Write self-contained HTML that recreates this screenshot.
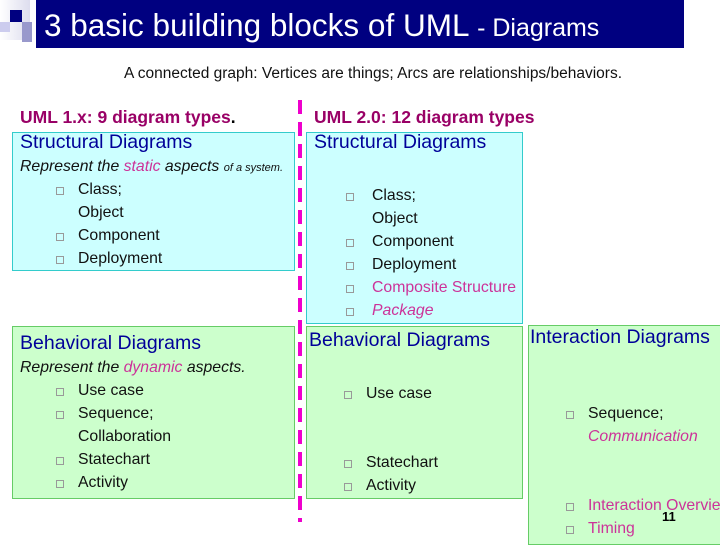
<!DOCTYPE html>
<html><head><meta charset="utf-8"><style>
body{margin:0;width:720px;height:540px;position:relative;overflow:hidden;background:#fff;font-family:"Liberation Sans",sans-serif;}
.a{position:absolute;white-space:nowrap;line-height:20px;}
.box{position:absolute;box-sizing:border-box;}
.h{font-size:19.5px;color:#000099;}
.t{font-size:15.8px;color:#111;}
.m{color:#cc3399;}
.b{position:absolute;width:8px;height:8px;border:1px solid #999;box-sizing:border-box;}
</style></head><body>
<div class="box" style="left:36px;top:0;width:648px;height:48px;background:#000080"></div>
<div class="box" style="left:0;top:0;width:30px;height:40px;background:linear-gradient(90deg,#fff,#dde)"></div>
<div class="box" style="left:10px;top:10px;width:12px;height:12px;background:#000080"></div>
<div class="box" style="left:22px;top:22px;width:10px;height:20px;background:#9999cc"></div>
<div class="box" style="left:0;top:22px;width:10px;height:10px;background:#ccccee"></div>
<div class="a" style="left:44px;top:7px;line-height:36px;font-size:31.5px;color:#fff">3 basic building blocks of UML <span style="font-size:25px">- Diagrams</span></div>
<div class="a" style="left:124px;top:64px;font-size:15.5px;color:#111">A connected graph: Vertices are things; Arcs are relationships/behaviors.</div>

<div class="a" style="left:20px;top:107px;font-size:17.5px;font-weight:bold;color:#990066">UML 1.x: 9 diagram types<span style="color:#000">.</span></div>
<div class="a" style="left:314px;top:107px;font-size:17.5px;font-weight:bold;color:#990066">UML 2.0: 12 diagram types</div>

<div class="box" style="left:12px;top:132px;width:283px;height:139px;background:#ccffff;border:1px solid #33cccc"></div>
<div class="a h" style="left:20px;top:132px">Structural Diagrams</div>
<div class="a t" style="left:20px;top:157px;font-style:italic">Represent the <span class="m">static</span> aspects <span style="font-size:11px">of a system.</span></div>
<div class="b" style="left:56px;top:187px"></div><div class="a t" style="left:78px;top:180px">Class;</div>
<div class="a t" style="left:78px;top:203px">Object</div>
<div class="b" style="left:56px;top:233px"></div><div class="a t" style="left:78px;top:226px">Component</div>
<div class="b" style="left:56px;top:256px"></div><div class="a t" style="left:78px;top:249px">Deployment</div>

<div class="box" style="left:12px;top:326px;width:283px;height:173px;background:#ccffcc;border:1px solid #66cc66"></div>
<div class="a h" style="left:20px;top:333px">Behavioral Diagrams</div>
<div class="a t" style="left:20px;top:358px;font-style:italic">Represent the <span class="m">dynamic</span> aspects.</div>
<div class="b" style="left:56px;top:388px"></div><div class="a t" style="left:78px;top:381px">Use case</div>
<div class="b" style="left:56px;top:411px"></div><div class="a t" style="left:78px;top:404px">Sequence;</div>
<div class="a t" style="left:78px;top:427px">Collaboration</div>
<div class="b" style="left:56px;top:457px"></div><div class="a t" style="left:78px;top:450px">Statechart</div>
<div class="b" style="left:56px;top:480px"></div><div class="a t" style="left:78px;top:473px">Activity</div>

<div class="box" style="left:298px;top:100px;width:4px;height:422px;background:repeating-linear-gradient(180deg,#ee00cc 0 14px,transparent 14px 22px)"></div>

<div class="box" style="left:306px;top:132px;width:217px;height:192px;background:#ccffff;border:1px solid #33cccc"></div>
<div class="a h" style="left:314px;top:132px">Structural Diagrams</div>
<div class="b" style="left:346px;top:193px"></div><div class="a t" style="left:372px;top:186px">Class;</div>
<div class="a t" style="left:372px;top:209px">Object</div>
<div class="b" style="left:346px;top:239px"></div><div class="a t" style="left:372px;top:232px">Component</div>
<div class="b" style="left:346px;top:262px"></div><div class="a t" style="left:372px;top:255px">Deployment</div>
<div class="b" style="left:346px;top:285px"></div><div class="a t m" style="left:372px;top:278px">Composite Structure</div>
<div class="b" style="left:346px;top:308px"></div><div class="a t m" style="left:372px;top:301px;font-style:italic">Package</div>

<div class="box" style="left:306px;top:326px;width:217px;height:173px;background:#ccffcc;border:1px solid #66cc66"></div>
<div class="a h" style="left:309px;top:330px">Behavioral Diagrams</div>
<div class="b" style="left:344px;top:391px"></div><div class="a t" style="left:366px;top:384px">Use case</div>
<div class="b" style="left:344px;top:460px"></div><div class="a t" style="left:366px;top:453px">Statechart</div>
<div class="b" style="left:344px;top:483px"></div><div class="a t" style="left:366px;top:476px">Activity</div>

<div class="box" style="left:528px;top:325px;width:200px;height:220px;background:#ccffcc;border:1px solid #66cc66"></div>
<div class="a h" style="left:530px;top:327px">Interaction Diagrams</div>
<div class="b" style="left:566px;top:411px"></div><div class="a t" style="left:588px;top:404px">Sequence;</div>
<div class="a t m" style="left:588px;top:427px;font-style:italic">Communication</div>
<div class="b" style="left:566px;top:503px"></div><div class="a t m" style="left:588px;top:496px">Interaction Overview</div>
<div class="b" style="left:566px;top:526px"></div><div class="a t m" style="left:588px;top:519px">Timing</div>
<div class="a" style="left:662px;top:507px;font-size:13px;font-weight:bold;color:#000">11</div>
</body></html>
